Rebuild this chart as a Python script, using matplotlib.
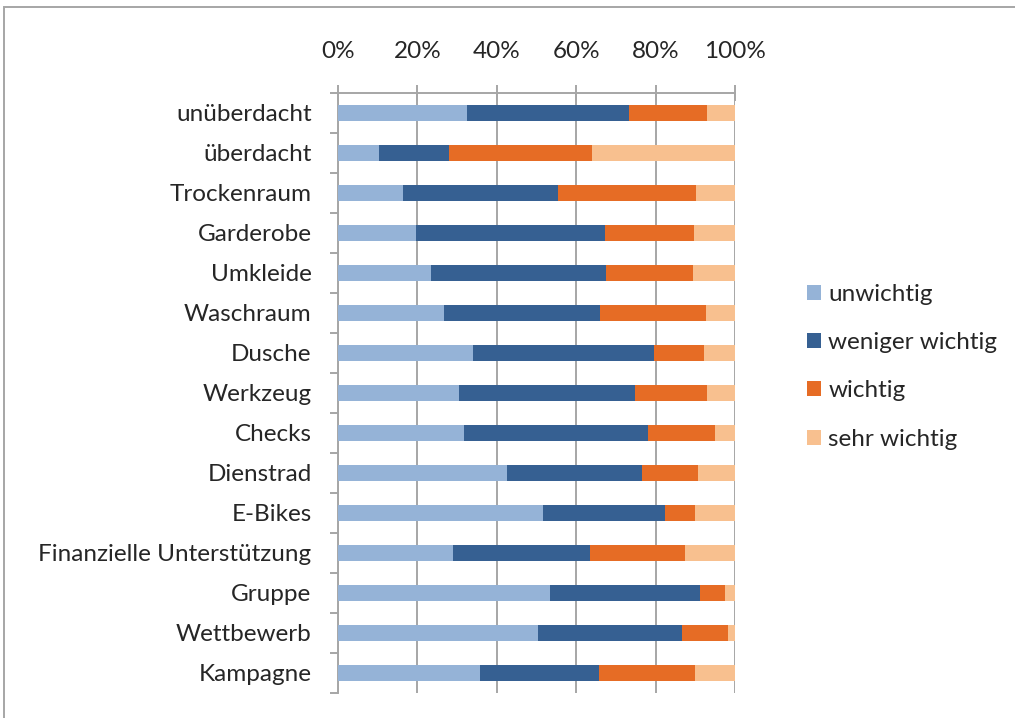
import matplotlib
matplotlib.use("Agg")
import matplotlib.pyplot as plt
from matplotlib.patches import Patch, Rectangle
from matplotlib.ticker import FixedLocator, PercentFormatter
import numpy as np

categories = ["unüberdacht", "überdacht", "Trockenraum", "Garderobe", "Umkleide",
              "Waschraum", "Dusche", "Werkzeug", "Checks", "Dienstrad", "E-Bikes",
              "Finanzielle Unterstützung", "Gruppe", "Wettbewerb", "Kampagne"]
series_names = ["unwichtig", "weniger wichtig", "wichtig", "sehr wichtig"]
unwichtig       = [32.6, 10.3, 16.4, 19.7, 23.5, 26.8, 34.1, 30.5, 31.7, 42.6, 51.6, 29.0, 53.5, 50.4, 35.7]
weniger_wichtig = [40.6, 17.6, 38.9, 47.6, 43.9, 39.1, 45.4, 44.3, 46.3, 33.9, 30.7, 34.5, 37.8, 36.2, 30.0]
wichtig         = [19.8, 36.0, 34.8, 22.4, 21.9, 26.8, 12.7, 18.1, 16.9, 14.3, 7.6, 24.0, 6.2, 11.6, 24.1]
sehr_wichtig    = [7.0, 36.1, 9.9, 10.3, 10.7, 7.3, 7.8, 7.1, 5.1, 9.2, 10.1, 12.5, 2.5, 1.8, 10.2]
x_ticks = [0, 20, 40, 60, 80, 100]

colors = ["#95B3D7", "#366092", "#E66C25", "#F8C08F"]
grid_c = "#A6A6A6"
text_c = "#262626"

plt.rcParams["font.family"] = ["Lato", "DejaVu Sans"]
FS = 17.5

W, H = 1015, 718
fig = plt.figure(figsize=(W / 100, H / 100), dpi=100)
ax = fig.add_axes([338 / W, (H - 692.7) / H, 397 / W, 600 / H])

data = [unwichtig, weniger_wichtig, wichtig, sehr_wichtig]
y = np.arange(len(categories))
left = np.zeros(len(categories))
for name, vals, c in zip(series_names, data, colors):
    vals = np.array(vals, dtype=float)
    ax.barh(y, vals, left=left, height=0.4, color=c, label=name, zorder=3, linewidth=0)
    left += vals

ax.set_xlim(0, 100)
ax.set_ylim(len(categories) - 0.5, -0.5)
ax.xaxis.tick_top()
ax.set_xticks(x_ticks)
ax.xaxis.set_major_formatter(PercentFormatter(decimals=0))
ax.set_yticks(y)
ax.set_yticklabels(categories)
ax.yaxis.set_minor_locator(FixedLocator(np.arange(-0.5, len(categories), 1.0)))

ax.grid(axis="x", color=grid_c, linewidth=1.4, zorder=0)
for s in ["right", "bottom"]:
    ax.spines[s].set_visible(False)
for s in ["left", "top"]:
    ax.spines[s].set_color(grid_c)
    ax.spines[s].set_linewidth(1.4)

ax.tick_params(axis="x", which="major", direction="inout", length=11, width=1.4,
               color=grid_c, labelsize=FS, labelcolor=text_c, pad=16.5)
ax.tick_params(axis="y", which="major", length=0, labelsize=FS, labelcolor=text_c, pad=19)
ax.tick_params(axis="y", which="minor", direction="out", length=6, width=1.4, color=grid_c)

handles = [Patch(facecolor=c, edgecolor="none", label=n) for n, c in zip(series_names, colors)]
fig.legend(handles=handles, loc="upper left", bbox_to_anchor=(807 / W, 1 - 284 / H),
           frameon=False, fontsize=FS, labelcolor=text_c, handlelength=0.58,
           handleheight=0.58, handletextpad=0.3, labelspacing=1.12, borderaxespad=0,
           borderpad=0)

fig.patches.append(Rectangle((3.5 / W, -0.1), 1.2, 1.1 - 6.5 / H, transform=fig.transFigure,
                             fill=False, edgecolor=grid_c, linewidth=1.4))

fig.savefig("out.png", dpi=100)
